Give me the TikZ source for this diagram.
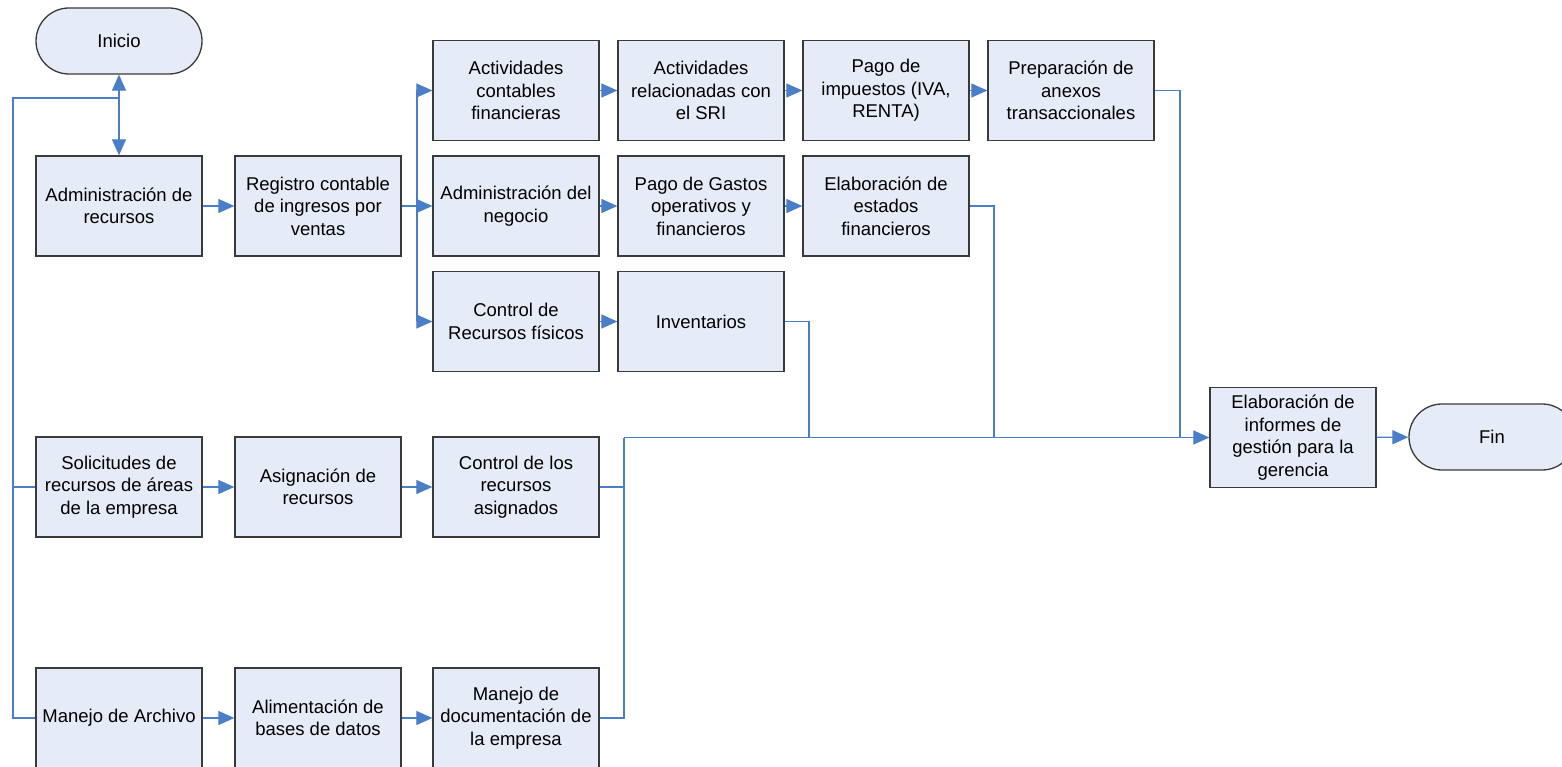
\documentclass[tikz,border=0pt]{standalone}
\usepackage{fontspec}
\setmainfont{Liberation Sans}
\usetikzlibrary{arrows.meta}
\definecolor{boxfill}{HTML}{E6ECF7}
\definecolor{boxline}{HTML}{3A3A3A}
\definecolor{linec}{HTML}{4A7EC7}
\begin{document}
\begin{tikzpicture}[x=1pt,y=-1pt,
  box/.style={draw=boxline, line width=1.3pt, fill=boxfill, minimum width=166pt, minimum height=100pt, align=center, inner sep=2pt, font=\fontsize{18.5}{22.5}\selectfont},
  term/.style={box, minimum height=66pt, rounded corners=33pt},
  conn/.style={draw=linec, line width=1.2pt},
  arr/.style={conn, -{Triangle[length=16pt,width=14pt]}}]
\useasboundingbox (0,0) rectangle (1562,767);
% terminals
\node[term] (ini) at (119,41) {Inicio};
\node[term] (fin) at (1492,437) {Fin};
% row A
\node[box] (act) at (516,90.5) {Actividades\\contables\\financieras};
\node[box] (sri) at (701,90.5) {Actividades\\relacionadas con\\el SRI};
\node[box] (imp) at (886,90.5) {Pago de\\impuestos (IVA,\\RENTA)};
\node[box] (pre) at (1071,90.5) {Preparación de\\anexos\\transaccionales};
% row B
\node[box] (adm) at (119,206) {Administración de\\recursos};
\node[box] (reg) at (318,206) {Registro contable\\de ingresos por\\ventas};
\node[box] (adn) at (516,206) {Administración del\\negocio};
\node[box] (gas) at (701,206) {Pago de Gastos\\operativos y\\financieros};
\node[box] (est) at (886,206) {Elaboración de\\estados\\financieros};
% row C
\node[box] (ctl) at (516,321.5) {Control de\\Recursos físicos};
\node[box] (inv) at (701,321.5) {Inventarios};
% row D
\node[box] (sol) at (119,487) {Solicitudes de\\recursos de áreas\\de la empresa};
\node[box] (asi) at (318,487) {Asignación de\\recursos};
\node[box] (ctr) at (516,487) {Control de los\\recursos\\asignados};
% row E
\node[box] (man) at (119,718) {Manejo de Archivo};
\node[box] (ali) at (318,718) {Alimentación de\\bases de datos};
\node[box] (doc) at (516,718) {Manejo de\\documentación de\\la empresa};
% informes
\node[box] (inf) at (1293,437.5) {Elaboración de\\informes de\\gestión para la\\gerencia};

% junction coordinates
\coordinate (j0) at (119,98);
\coordinate (lt) at (13,98);
\coordinate (rb) at (417,206);
\coordinate (b1) at (624,437.5);
\coordinate (jC) at (809,437.5);
\coordinate (jB) at (994,437.5);
\coordinate (jA) at (1180,437.5);

% connectors
\draw[conn, {Triangle[length=16pt,width=14pt]}-{Triangle[length=16pt,width=14pt]}] (ini.south) -- (adm.north);
\draw[conn] (j0) -- (lt) |- (man.west);
\draw[conn] (lt |- sol.west) -- (sol.west);
\draw[arr] (adm) -- (reg);
\draw[conn] (reg.east) -- (rb);
\draw[arr] (rb) |- (act.west);
\draw[arr] (rb) -- (adn.west);
\draw[arr] (rb) |- (ctl.west);
\draw[arr] (act) -- (sri);
\draw[arr] (sri) -- (imp);
\draw[arr] (imp) -- (pre);
\draw[arr] (adn) -- (gas);
\draw[arr] (gas) -- (est);
\draw[arr] (ctl) -- (inv);
\draw[arr] (sol) -- (asi);
\draw[arr] (asi) -- (ctr);
\draw[arr] (man) -- (ali);
\draw[arr] (ali) -- (doc);
\draw[conn] (pre.east) -| (jA);
\draw[conn] (est.east) -| (jB);
\draw[conn] (inv.east) -| (jC);
\draw[conn] (ctr.east) -| (b1);
\draw[conn] (doc.east) -| (b1);
\draw[arr] (b1) -- (inf.west);
\draw[arr] (inf) -- (fin);
\end{tikzpicture}
\end{document}
